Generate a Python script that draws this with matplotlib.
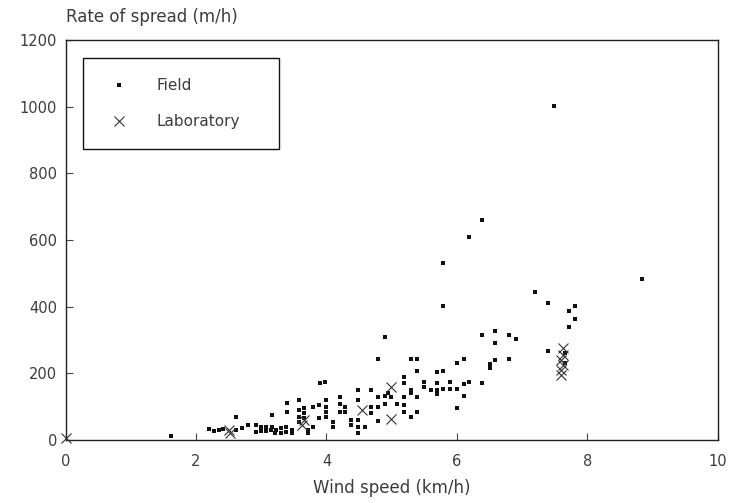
"""Rate of spread vs wind speed: field and laboratory observations."""

import matplotlib

matplotlib.use("Agg")
import matplotlib.pyplot as plt

# Field observations (wind speed km/h, rate of spread m/h)
field_x = [
    1.61, 2.20, 2.27, 2.35, 2.42, 2.61, 2.62, 2.71, 2.80, 2.92, 2.92, 2.99, 2.99,
    3.07, 3.07, 3.15, 3.17, 3.17, 3.22, 3.21, 3.30, 3.30, 3.38, 3.38, 3.39, 3.39,
    3.47, 3.47,
    3.58, 3.58, 3.58, 3.58, 3.66, 3.66, 3.66, 3.72, 3.72, 3.79, 3.79, 3.89, 3.89,
    3.90, 3.98, 3.99, 3.99, 3.99, 3.99, 4.10, 4.10, 4.20, 4.20, 4.20, 4.28, 4.28,
    4.38, 4.38, 4.48, 4.48, 4.49, 4.49, 4.49,
    4.59, 4.68, 4.68, 4.68, 4.79, 4.79, 4.79, 4.79, 4.89, 4.89, 4.89, 4.94, 4.99,
    5.08, 5.19, 5.19, 5.19, 5.19, 5.19, 5.29, 5.29, 5.29, 5.29, 5.39, 5.39, 5.39,
    5.39, 5.50, 5.50,
    5.60, 5.70, 5.70, 5.70, 5.70, 5.79, 5.79, 5.79, 5.79, 5.90, 5.90, 6.00, 6.00,
    6.00, 6.10, 6.10, 6.10, 6.18, 6.19, 6.39, 6.39, 6.39, 6.50, 6.50, 6.59, 6.59,
    6.59, 6.80, 6.80, 6.90,
    7.20, 7.40, 7.40, 7.49, 7.66, 7.66, 7.71, 7.72, 7.81, 7.81, 8.83,
]
field_y = [
    12, 32, 28, 30, 32, 30, 70, 35, 45, 25, 45, 28, 40,
    28, 40, 30, 40, 75, 30, 20, 20, 35, 25, 40, 85, 110,
    30, 20,
    55, 70, 90, 120, 65, 80, 96, 30, 20, 100, 40, 65, 105,
    172, 175, 68, 85, 100, 120, 40, 55, 85, 108, 130, 85, 100,
    45, 60, 40, 60, 20, 120, 150,
    40, 81, 100, 150, 57, 100, 130, 242, 308, 107, 132, 140, 130,
    107, 85, 105, 130, 170, 190, 68, 140, 150, 242, 85, 130, 206,
    242, 160, 175,
    150, 137, 150, 172, 203, 152, 207, 402, 530, 152, 173, 96, 152,
    230, 132, 169, 243, 610, 173, 172, 315, 660, 215, 228, 240, 290,
    327, 244, 314, 302,
    445, 410, 267, 1002, 261, 231, 387, 338, 364, 402, 482,
]

# Laboratory observations
lab_x = [0.0, 2.50, 2.52, 3.62, 3.66, 4.55, 4.99, 4.99, 7.60, 7.60, 7.62, 7.60, 7.62, 7.62]
lab_y = [5, 30, 20, 45, 60, 90, 62, 160, 195, 210, 225, 240, 255, 275]

x_ticks = [0, 2, 4, 6, 8, 10]
y_ticks = [0, 200, 400, 600, 800, 1000, 1200]

TEXT = "#3c3c3c"

plt.rcParams["font.family"] = ["DejaVu Sans"]

fig = plt.figure(figsize=(7.31, 5.03), dpi=100)
W, H = 731, 503
ax = fig.add_axes([65.5 / W, 1 - 440 / H, 652.5 / W, 400 / H])

ax.plot(field_x, field_y, "s", ms=2.4, color="#111111", mew=0, label="Field")
ax.plot(lab_x, lab_y, "x", ms=7, mew=0.8, color="#333333", label="Laboratory",
        clip_on=False, zorder=4)

ax.set_xlim(0, 10)
ax.set_ylim(0, 1200)
ax.set_xticks(x_ticks)
ax.set_yticks(y_ticks)
ax.tick_params(direction="in", length=5, width=0.8, colors="#444444",
               labelcolor=TEXT, labelsize=10.5)
ax.tick_params(axis="x", pad=10)
ax.tick_params(axis="y", pad=6)
for s in ax.spines.values():
    s.set_linewidth(1.0)
    s.set_color("#222222")

ax.set_xlabel("Wind speed (km/h)", fontsize=12, color=TEXT, labelpad=7)
ax.text(0.0, 1.035, "Rate of spread (m/h)", transform=ax.transAxes,
        fontsize=12, color=TEXT, ha="left", va="bottom")

leg = ax.legend(loc="upper left", bbox_to_anchor=(0.0268, 0.7275, 0.3004, 0.2275),
                mode="expand", frameon=True, fancybox=False, framealpha=1,
                edgecolor="#111111", fontsize=11, borderpad=1.3,
                labelspacing=1.4, handlelength=2.1, handletextpad=1.4,
                borderaxespad=0, labelcolor=TEXT)
leg.get_frame().set_linewidth(1.0)

fig.savefig("out.png", dpi=100)
